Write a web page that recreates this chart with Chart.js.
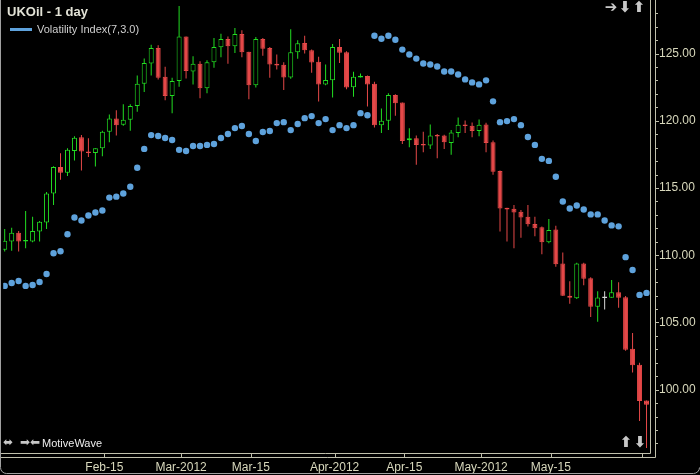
<!DOCTYPE html>
<html>
<head>
<meta charset="utf-8">
<script src="https://cdn.jsdelivr.net/npm/chart.js@4.4.0/dist/chart.umd.min.js"></script>
<style>
  html, body { margin: 0; padding: 0; background: #000; }
  #wrap { width: 700px; height: 475px; }
</style>
</head>
<body>
<div id="wrap"><canvas id="chartCanvas" width="700" height="475"></canvas></div>
<script>
// UKOil daily candles, 26 Jan - 4 Jun 2012 (trading days)
var dates = [
  "2012-01-26", "2012-01-27", "2012-01-30", "2012-01-31", "2012-02-01", "2012-02-02", "2012-02-03",
  "2012-02-06", "2012-02-07", "2012-02-08", "2012-02-09", "2012-02-10", "2012-02-13", "2012-02-14",
  "2012-02-15", "2012-02-16", "2012-02-17", "2012-02-20", "2012-02-21", "2012-02-22", "2012-02-23",
  "2012-02-24", "2012-02-27", "2012-02-28", "2012-02-29", "2012-03-01", "2012-03-02", "2012-03-05",
  "2012-03-06", "2012-03-07", "2012-03-08", "2012-03-09", "2012-03-12", "2012-03-13", "2012-03-14",
  "2012-03-15", "2012-03-16", "2012-03-19", "2012-03-20", "2012-03-21", "2012-03-22", "2012-03-23",
  "2012-03-26", "2012-03-27", "2012-03-28", "2012-03-29", "2012-03-30", "2012-04-02", "2012-04-03",
  "2012-04-04", "2012-04-05", "2012-04-06", "2012-04-09", "2012-04-10", "2012-04-11", "2012-04-12",
  "2012-04-13", "2012-04-16", "2012-04-17", "2012-04-18", "2012-04-19", "2012-04-20", "2012-04-23",
  "2012-04-24", "2012-04-25", "2012-04-26", "2012-04-27", "2012-04-30", "2012-05-01", "2012-05-02",
  "2012-05-03", "2012-05-04", "2012-05-07", "2012-05-08", "2012-05-09", "2012-05-10", "2012-05-11",
  "2012-05-14", "2012-05-15", "2012-05-16", "2012-05-17", "2012-05-18", "2012-05-21", "2012-05-22",
  "2012-05-23", "2012-05-24", "2012-05-25", "2012-05-28", "2012-05-29", "2012-05-30", "2012-05-31",
  "2012-06-01", "2012-06-04"
];

var openList = [
  110.41, 111.02, 111.68, 111.02, 111.02, 111.76, 112.44, 114.59, 116.56, 116.14,
  117.76, 118.77, 117.72, 117.61, 117.96, 119.19, 120.18, 119.71, 120.08, 121.11,
  122.76, 124.26, 125.42, 123.28, 121.85, 122.96, 126.28, 123.67, 124.24, 122.42,
  124.36, 125.47, 126.09, 125.55, 126.45, 125.13, 122.64, 126.09, 125.42, 124.24,
  124.17, 123.23, 125.10, 125.79, 125.25, 124.39, 122.71, 123.01, 125.49, 125.10,
  122.49, 123.23, 123.33, 122.76, 119.68, 120.01, 121.93, 121.36, 118.55, 118.70,
  118.26, 118.16, 118.94, 118.90, 118.35, 119.09, 119.73, 119.64, 119.24, 119.73,
  118.40, 116.26, 113.53, 113.46, 113.23, 112.86, 112.33, 112.08, 110.97, 111.91,
  109.39, 106.99, 106.81, 109.39, 108.29, 106.17, 106.82, 106.83, 107.25, 106.88,
  103.04, 101.86, 99.20
];
var highList = [
  111.96, 112.05, 111.81, 113.29, 112.86, 112.55, 114.71, 116.63, 117.59, 117.96,
  118.85, 118.94, 118.70, 117.96, 119.27, 120.47, 120.79, 121.23, 121.23, 123.37,
  124.63, 125.66, 125.62, 124.02, 123.21, 128.54, 126.28, 124.81, 124.44, 124.51,
  126.16, 126.48, 126.28, 126.90, 126.73, 125.13, 126.23, 126.16, 125.49, 124.93,
  124.36, 126.82, 125.99, 126.33, 125.30, 124.76, 124.19, 125.72, 126.09, 125.18,
  123.65, 123.52, 123.37, 122.91, 120.92, 122.05, 121.97, 121.36, 119.44, 118.90,
  119.19, 119.73, 119.02, 118.97, 119.31, 120.25, 120.03, 119.88, 120.10, 119.86,
  118.53, 116.31, 113.53, 113.73, 113.36, 113.73, 112.86, 112.13, 112.70, 112.20,
  110.21, 108.06, 109.45, 109.45, 108.36, 107.33, 107.33, 108.16, 107.99, 106.96,
  104.22, 102.01, 99.20
];
var lowList = [
  110.28, 110.33, 110.28, 110.52, 110.97, 111.02, 111.96, 113.73, 115.62, 115.89,
  117.05, 116.31, 117.30, 116.61, 117.37, 118.40, 118.90, 119.64, 119.27, 120.67,
  122.15, 123.37, 123.08, 121.53, 120.57, 122.54, 123.15, 122.71, 121.68, 122.05,
  123.94, 124.73, 124.24, 125.05, 124.73, 121.60, 122.47, 124.85, 123.21, 123.82,
  122.30, 123.13, 124.61, 125.00, 123.57, 121.43, 122.64, 121.73, 124.31, 122.34,
  121.80, 123.23, 121.06, 119.51, 119.09, 119.31, 120.38, 118.28, 118.04, 116.73,
  117.67, 117.91, 117.22, 117.91, 117.47, 118.77, 119.09, 118.77, 118.85, 117.67,
  115.99, 111.76, 111.02, 110.52, 111.31, 112.13, 111.41, 110.08, 110.89, 109.15,
  106.96, 106.39, 106.74, 107.77, 105.41, 105.06, 105.97, 106.83, 106.09, 102.90,
  101.27, 97.67, 95.66
];
var closeList = [
  111.07, 111.68, 111.02, 111.09, 111.81, 112.50, 114.59, 116.56, 116.14, 117.84,
  118.75, 117.72, 117.61, 117.96, 119.19, 120.18, 119.68, 120.08, 121.11, 122.76,
  124.31, 125.42, 123.21, 121.85, 122.96, 126.28, 123.70, 124.24, 122.42, 124.36,
  125.49, 126.09, 125.55, 126.45, 125.10, 122.64, 126.09, 125.37, 124.19, 124.11,
  123.23, 125.10, 125.77, 125.25, 124.34, 122.71, 123.04, 125.49, 125.07, 122.47,
  123.28, 123.35, 122.71, 119.68, 120.01, 121.93, 121.31, 118.50, 118.70, 118.21,
  118.16, 118.90, 118.83, 118.40, 119.14, 119.71, 119.62, 119.24, 119.71, 118.35,
  116.21, 113.48, 113.40, 113.18, 112.81, 112.30, 112.00, 110.97, 111.88, 109.34,
  106.98, 106.83, 109.39, 108.26, 106.17, 106.86, 106.82, 107.25, 106.83, 102.97,
  101.81, 99.15, 98.88
];

// Volatility Index(7,3.0)
var volIndex = [
  107.72, 107.94, 108.09, 107.72, 107.79, 108.01, 108.60, 110.15, 110.30, 111.56,
  112.81, 112.59, 112.96, 113.18, 113.33, 114.29, 114.36, 114.59, 115.10, 116.51,
  117.91, 118.94, 118.87, 118.72, 118.57, 117.84, 117.76, 118.13, 118.13, 118.21,
  118.28, 118.72, 119.02, 119.46, 119.61, 119.02, 118.50, 119.17, 119.24, 119.83,
  119.90, 119.31, 119.76, 120.20, 120.35, 119.83, 120.13, 119.31, 119.68, 119.46,
  119.68, 120.57, 120.42, 126.33, 126.11, 126.33, 126.03, 125.30, 124.93, 124.63,
  124.26, 124.19, 124.04, 123.67, 123.67, 123.45, 123.08, 122.86, 122.71, 123.01,
  121.45, 119.90, 119.98, 120.13, 119.68, 118.80, 118.21, 117.17, 117.02, 115.84,
  114.00, 113.48, 113.70, 113.40, 113.04, 113.04, 112.59, 112.22, 112.15, 109.86,
  108.90, 107.05, 107.20
];

var tickDates = ["2012-02-15", "2012-03-01", "2012-03-15", "2012-04-02", "2012-04-16", "2012-05-01", "2012-05-15", "2012-06-01"];
var tickLabels = ["Feb-15", "Mar-2012", "Mar-15", "Apr-2012", "Apr-15", "May-2012", "May-15", ""];

var upColor = "#22dd22";
var downColor = "#e54848";
var flatColor = "#d8d8d8";
var dotColor = "#5ea2dc";
var axisColor = "#c0c0ac";
var labelColor = "#d8d8bc";

Chart.defaults.font.family = "'Liberation Sans', Arial, sans-serif";

var tickIdx = tickDates.map(function (d) { return dates.indexOf(d); });

var wickData = [], bodyData = [], volData = [];
for (var i = 0; i < dates.length; i++) {
  wickData.push({ x: i, y: [lowList[i], highList[i]] });
  bodyData.push({ x: i, y: [Math.min(openList[i], closeList[i]), Math.max(openList[i], closeList[i])] });
  volData.push({ x: i, y: volIndex[i] });
}

function candleColor(i) {
  if (closeList[i] > openList[i]) return upColor;
  if (closeList[i] < openList[i]) return downColor;
  return flatColor;
}

// no label overhang padding, the plot runs edge to edge
function noPad(scale) {
  scale.paddingTop = 0;
  scale.paddingBottom = 0;
  scale.paddingLeft = 0;
  scale.paddingRight = 0;
}

var framePlugin = {
  id: "frame",
  beforeDraw: function (chart) {
    var ctx = chart.ctx;
    ctx.save();
    ctx.fillStyle = "#000";
    ctx.fillRect(0, 0, chart.width, chart.height);
    ctx.restore();
  },
  afterDraw: function (chart) {
    var ctx = chart.ctx;
    var area = chart.chartArea;
    var xs = chart.scales.x;
    var ys = chart.scales.y;
    ctx.save();

    // plot border and axis lines
    ctx.strokeStyle = axisColor;
    ctx.lineWidth = 1;
    ctx.beginPath();
    ctx.moveTo(0, area.bottom + 0.5);
    ctx.lineTo(area.right + 0.5, area.bottom + 0.5);
    ctx.lineTo(area.right + 0.5, 0);
    ctx.moveTo(0, area.bottom + 4.5);
    ctx.lineTo(area.right + 5.5, area.bottom + 4.5);
    ctx.lineTo(area.right + 5.5, 0);
    ctx.stroke();

    // x ticks
    ctx.beginPath();
    tickIdx.forEach(function (k) {
      var px = Math.round(xs.getPixelForValue(k)) + 2.5;
      ctx.moveTo(px, area.bottom + 0.5);
      ctx.lineTo(px, area.bottom + 4.5);
    });
    // y ticks
    for (var v = Math.ceil(ys.min); v <= Math.floor(ys.max); v++) {
      var py = Math.round(ys.getPixelForValue(v)) + 0.5;
      ctx.moveTo(area.right + 5.5, py);
      ctx.lineTo(area.right + (v % 5 === 0 ? 9 : 8), py);
    }
    ctx.stroke();

    // window frame
    ctx.strokeStyle = "#a0a0a0";
    ctx.beginPath();
    ctx.moveTo(0.5, 0);
    ctx.lineTo(0.5, 467);
    ctx.arcTo(0.5, 473.5, 6.5, 473.5, 6);
    ctx.lineTo(693, 473.5);
    ctx.arcTo(699.5, 473.5, 699.5, 467, 6);
    ctx.stroke();

    // title and legend
    ctx.fillStyle = "#e2e2d6";
    ctx.font = "bold 13px 'Liberation Sans', Arial, sans-serif";
    ctx.textBaseline = "alphabetic";
    ctx.textAlign = "left";
    ctx.fillText("UKOil - 1 day", 7, 16);

    ctx.fillStyle = dotColor;
    ctx.fillRect(10, 28, 22, 3);
    ctx.fillStyle = "#cfcfcf";
    ctx.font = "11px 'Liberation Sans', Arial, sans-serif";
    ctx.textBaseline = "middle";
    ctx.fillText(chart.data.datasets[0].label, 37, 29.5);

    // toolbar glyphs
    ctx.fillStyle = "#c8c8c8";
    ctx.font = "bold 15px 'DejaVu Sans', sans-serif";
    ctx.textAlign = "center";
    ctx.fillText("\u2794", 611, 8);
    ctx.fillText("\u2B07", 625, 8);
    ctx.fillText("\u2B06", 639, 8);
    ctx.fillText("\u2B06", 626, 443);
    ctx.fillText("\u2B07", 640, 443);
    ctx.font = "12px 'DejaVu Sans', sans-serif";
    ctx.textAlign = "left";
    ctx.fillText("\u2B0C", 3, 443);
    ctx.fillText("\u27A1\u2B05", 20, 443);
    ctx.fillStyle = "#ececec";
    ctx.font = "11px 'Liberation Sans', Arial, sans-serif";
    ctx.fillText("MotiveWave", 42, 443.5);

    ctx.restore();
  }
};

var ctx = document.getElementById("chartCanvas");
var oilChart = new Chart(ctx, {
  type: "bar",
  data: {
    datasets: [
      {
        type: "line",
        label: "Volatility Index(7,3.0)",
        data: volData,
        showLine: false,
        pointRadius: 3.2,
        pointHoverRadius: 3.2,
        pointBorderWidth: 0,
        pointBackgroundColor: dotColor,
        order: 0
      },
      {
        label: "body",
        data: bodyData,
        grouped: false,
        barThickness: 5,
        borderWidth: 1,
        borderSkipped: false,
        inflateAmount: 0,
        minBarLength: 1.5,
        backgroundColor: function (c) {
          var i = c.dataIndex;
          return closeList[i] > openList[i] ? "#000" : candleColor(i);
        },
        borderColor: function (c) { return candleColor(c.dataIndex); },
        order: 1
      },
      {
        label: "wick",
        data: wickData,
        grouped: false,
        barThickness: 1,
        borderWidth: 0,
        inflateAmount: 0,
        backgroundColor: function (c) { return candleColor(c.dataIndex); },
        order: 2
      }
    ]
  },
  options: {
    responsive: false,
    devicePixelRatio: 1,
    animation: false,
    events: [],
    layout: { padding: { left: 1, right: 0, top: 0, bottom: 0 } },
    plugins: {
      legend: { display: false },
      title: { display: false },
      tooltip: { enabled: false }
    },
    scales: {
      x: {
        type: "linear",
        offset: false,
        min: -0.2143,
        max: 92.5,
        grid: { display: false, drawTicks: false },
        border: { display: false },
        afterBuildTicks: function (scale) {
          scale.ticks = tickIdx.map(function (k) { return { value: k }; });
        },
        afterFit: function (scale) { scale.height = 22; noPad(scale); },
        ticks: {
          autoSkip: false,
          maxRotation: 0,
          labelOffset: 2,
          padding: 7,
          color: labelColor,
          font: { size: 12 },
          callback: function (value) {
            var j = tickIdx.indexOf(value);
            return j >= 0 ? tickLabels[j] : "";
          }
        }
      },
      y: {
        position: "right",
        min: 95.29,
        max: 128.75,
        grid: { display: false, drawTicks: false },
        border: { display: false },
        afterFit: function (scale) { scale.width = 50; noPad(scale); },
        ticks: {
          stepSize: 1,
          autoSkip: false,
          padding: 9,
          color: labelColor,
          font: { size: 12 },
          callback: function (value) {
            return Math.abs(value % 5) < 1e-9 ? value.toFixed(2) : "";
          }
        }
      }
    }
  },
  plugins: [framePlugin]
});
</script>
</body>
</html>
